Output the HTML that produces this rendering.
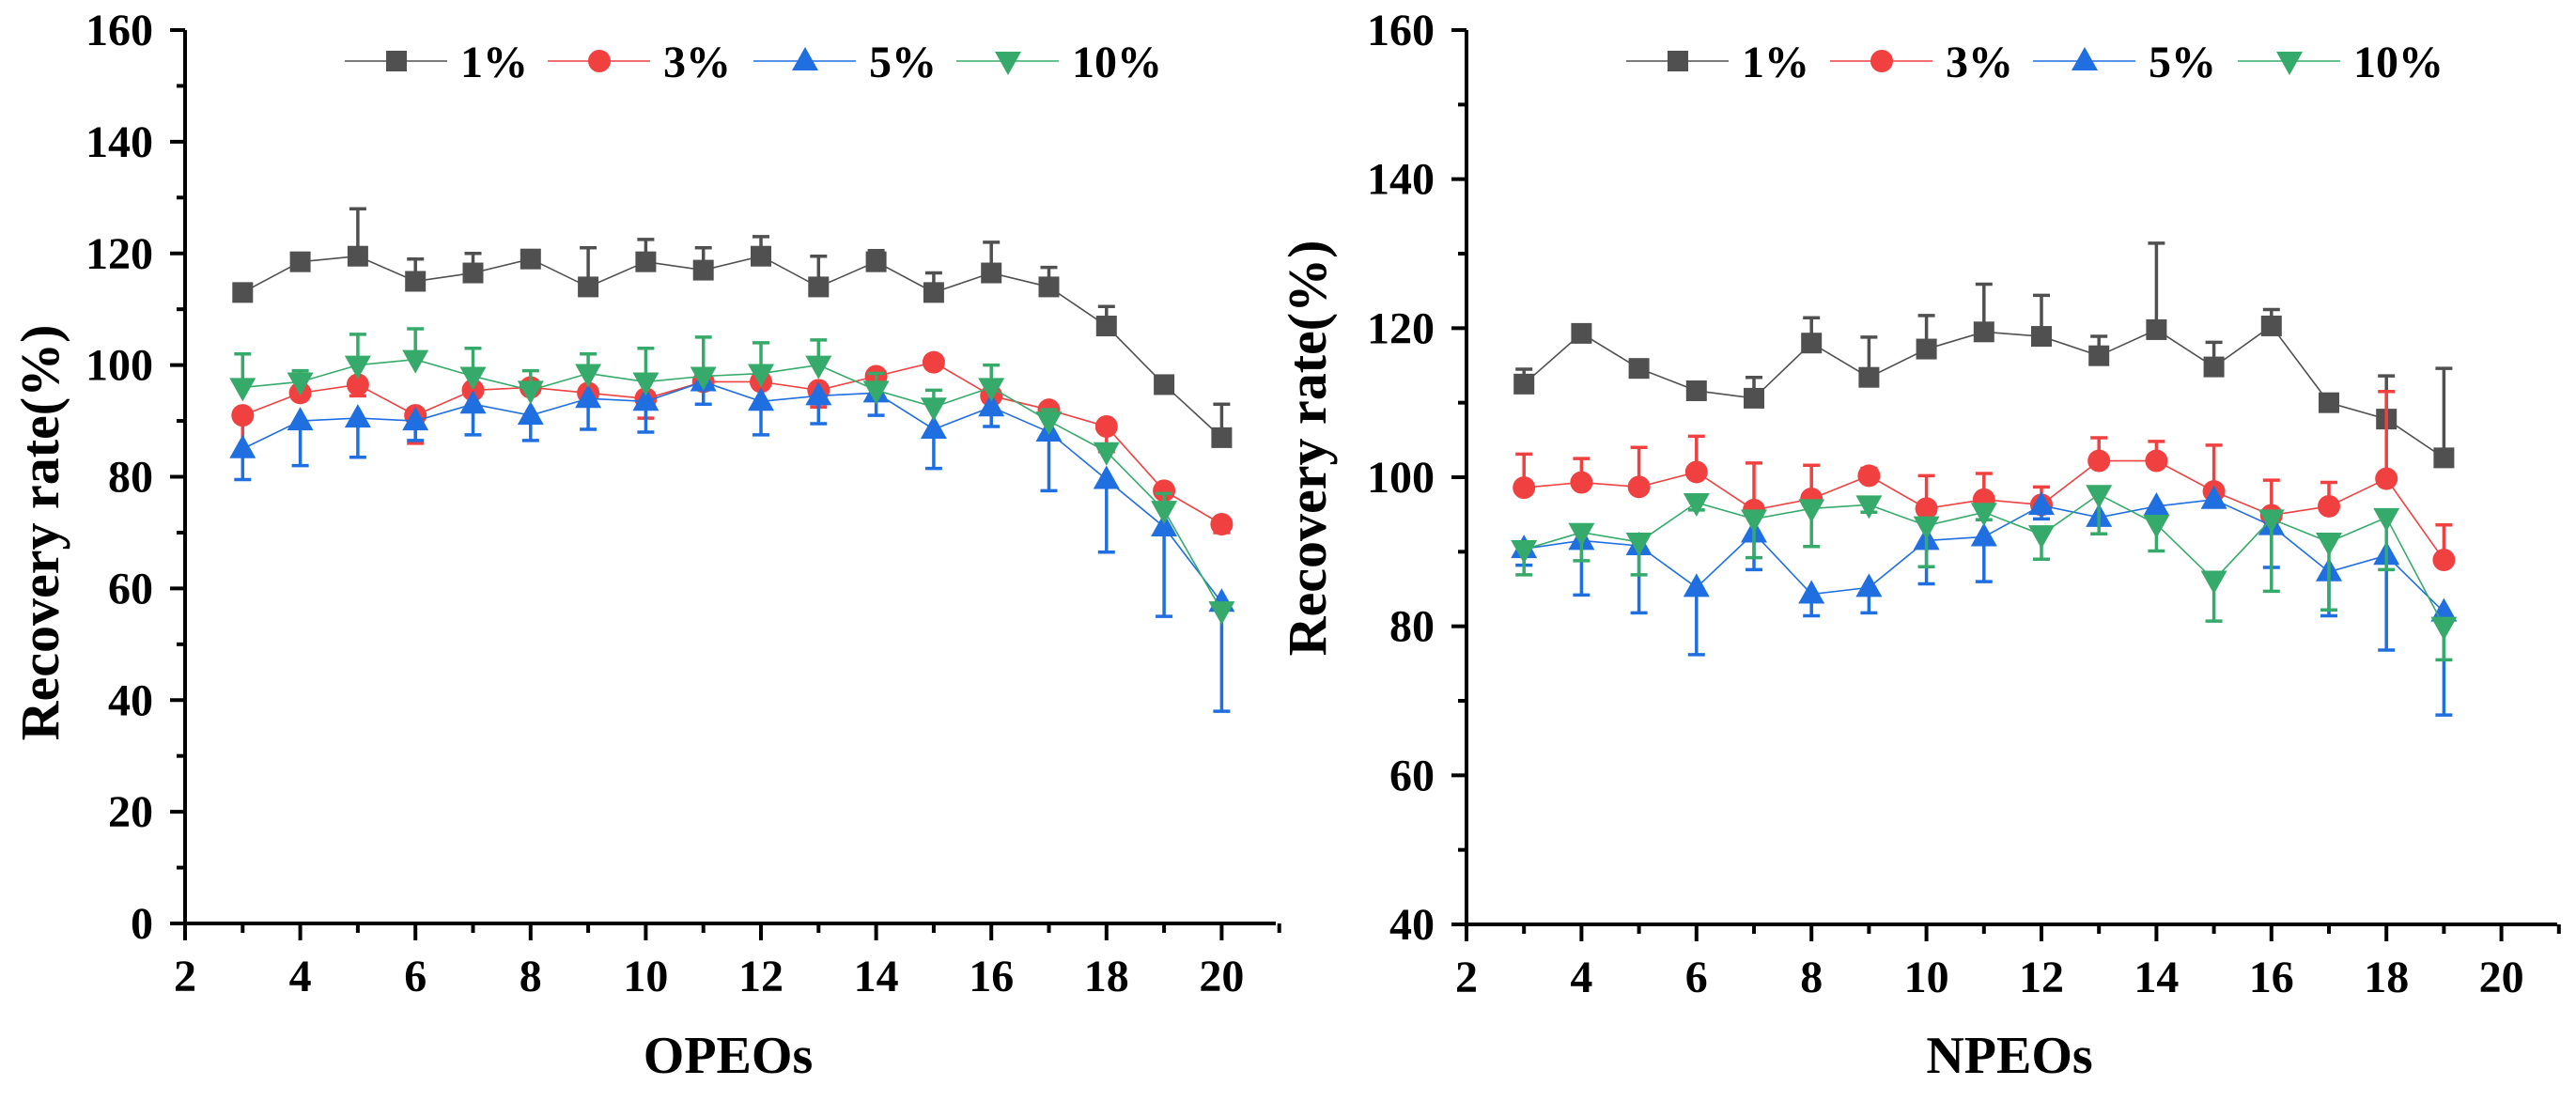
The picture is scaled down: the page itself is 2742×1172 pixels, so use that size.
<!DOCTYPE html>
<html><head><meta charset="utf-8"><style>
html,body{margin:0;padding:0;background:#fff;}
svg text{font-family:"Liberation Serif","Times New Roman",Times,serif;font-weight:bold;fill:#000;}
</style></head><body>
<svg id="chart" width="2742" height="1167" viewBox="0 0 2742 1167" xmlns="http://www.w3.org/2000/svg" font-family="Liberation Serif, Times New Roman, serif" font-weight="bold"></svg>
<script>
const xs = [3,4,5,6,7,8,9,10,11,12,13,14,15,16,17,18,19,20];
const xsR = [3,4,5,6,7,8,9,10,11,12,13,14,15,16,17,18,19];
const seriesNames = ['1%','3%','5%','10%'];
const yTicksL = [0,20,40,60,80,100,120,140,160];
const yTicksR = [40,60,80,100,120,140,160];
const xTicks = [2,4,6,8,10,12,14,16,18,20];
// OPEOs
const opeo1 = [113,118.5,119.5,115,116.5,119,114,118.5,117,119.5,114,118.5,113,116.5,114,107,96.5,87];
const opeo1Err = [0.5,1,8.5,4,3.5,0.5,7,4,4,3.5,5.5,2,3.5,5.5,3.5,3.5,0.5,6];
const opeo3 = [91,95,96.5,91,95.5,96,95,94,97,97,95.5,98,100.5,94.5,92,89,77.5,71.5];
const opeo3Err = [6.5,1,2,5,3.5,1,1,3.5,1,1,3,1,1,1,1,4.5,2.5,1.5];
const opeo5 = [85,90,90.5,90,93,91,94,93.5,97,93.5,94.5,95,88.5,92.5,88,79.5,71,57.5];
const opeo5Err = [5.5,8,7,3.5,5.5,4.5,5.5,5.5,4,6,5,4,7,3.5,10.5,13,16,19.5];
const opeo10 = [96,97,100,101,98,95.5,98.5,97,98,98.5,100,95.5,92.5,96,90,84.5,74,56];
const opeo10Err = [6,2,5.5,5.5,5,3.5,3.5,6,7,5.5,4.5,3,3,4,2,1,3,1];
// NPEOs
const npeo1 = [112.5,119.3,114.6,111.6,110.6,118,113.4,117.2,119.5,118.9,116.3,119.8,114.8,120.3,110,107.8,102.6];
const npeo1Err = [2,0.5,0.5,0.5,2.8,3.4,5.4,4.5,6.4,5.5,2.6,11.6,3.3,2.2,0.5,5.8,12];
const npeo3 = [98.6,99.3,98.7,100.7,95.6,97.1,100.2,95.8,97,96.3,102.2,102.2,98.1,94.9,96.1,99.8,88.9];
const npeo3Err = [4.5,3.2,5.3,4.8,6.3,4.5,1,4.4,3.5,2.4,3.1,2.6,6.2,4.7,3.2,11.7,4.7];
const npeo5 = [90.4,91.5,90.8,85.2,92.5,84.3,85.2,91.5,92,96.2,94.6,96.1,97,93.5,87.3,89.5,81.9];
const npeo5Err = [2.2,7.3,9,9,4.9,2.9,3.4,5.8,6,1.8,1,1.9,1,5.6,5.9,12.7,13.8];
const npeo10 = [90.3,92.6,91.3,96.6,94.4,95.8,96.3,93.5,95.3,92.3,97.7,93.7,86.2,94.4,91.3,94.6,80];
const npeo10Err = [3.4,3.8,4.4,1,5.2,5.1,1,5.5,1,3.3,5.3,3.6,5.5,9.7,9.1,7,4.5];

const NS='http://www.w3.org/2000/svg';
const svg=document.getElementById('chart');
const colors=['#505050','#f04040','#1f6fe0','#36aa6a'];
const shapes=['square','circle','tri','tridown'];
const FONT='Liberation Serif, Times New Roman, serif';
function mk(tag,attrs,parent){const e=document.createElementNS(NS,tag);for(const k in attrs)e.setAttribute(k,attrs[k]);(parent||svg).appendChild(e);return e;}
function txt(attrs,parent){attrs['font-family']=FONT;attrs['font-weight']='bold';return mk('text',attrs,parent);}
function marker(g,shape,x,y,c){
  let e;
  if(shape==='square') e=mk('rect',{x:x-11,y:y-11,width:22,height:22,fill:c},g);
  else if(shape==='circle') e=mk('circle',{cx:x,cy:y,r:12,fill:c},g);
  else if(shape==='tri') e=mk('polygon',{points:`${x},${y-15} ${x+14},${y+10} ${x-14},${y+10}`,fill:c},g);
  else e=mk('polygon',{points:`${x},${y+15} ${x+14},${y-10} ${x-14},${y-10}`,fill:c},g);
  return e;
}
function drawChart(cfg){
  const g=mk('g',{});
  
  
  const X=v=>cfg.x0+(v-2)*cfg.xu;
  const Y=v=>cfg.yb-(v-cfg.ymin)*(cfg.yb-cfg.yt)/(160-cfg.ymin);
  const xEnd=cfg.xEnd;
  const ax=mk('path',{d:`M${cfg.x0},${cfg.yt} V${cfg.yb} H${xEnd}`,stroke:'#000','stroke-width':4,fill:'none'},g);
  
  
  const yStep=cfg.yTicks[1]-cfg.yTicks[0];
  cfg.yTicks.forEach((t,i)=>{
    mk('line',{x1:cfg.x0-16,x2:cfg.x0,y1:Y(t),y2:Y(t),stroke:'#000','stroke-width':4},g);
    if(i<cfg.yTicks.length-1) mk('line',{x1:cfg.x0-9,x2:cfg.x0,y1:Y(t+yStep/2),y2:Y(t+yStep/2),stroke:'#000','stroke-width':4},g);
    const tx=txt({x:cfg.x0-34,y:Y(t)+16,'text-anchor':'end','font-size':48},g);
    tx.textContent=t;
    
    
  });
  xTicks.forEach((t,i)=>{
    mk('line',{x1:X(t),x2:X(t),y1:cfg.yb,y2:cfg.yb+18,stroke:'#000','stroke-width':4},g);
    mk('line',{x1:X(t+1),x2:X(t+1),y1:cfg.yb,y2:cfg.yb+10,stroke:'#000','stroke-width':4},g);
    const tx=txt({x:X(t),y:cfg.yb+72,'text-anchor':'middle','font-size':48},g);
    tx.textContent=t;
    
    
  });
  const xt=txt({x:cfg.xTitleX,y:1142,'text-anchor':'middle','font-size':56},g);
  xt.textContent=cfg.xTitle;
  
  
  const yt=txt({x:0,y:0,'text-anchor':'middle','font-size':58,transform:`translate(${cfg.yTitleX},${cfg.yTitleY}) rotate(-90)`},g);
  yt.textContent='Recovery rate(%)';
  
  
  cfg.series.forEach((s,si)=>{
    const sg=mk('g',{},g);
    
    
    const c=colors[si];
    const pts=s.vals.map((v,i)=>`${X(cfg.xs[i])},${Y(v)}`).join(' ');
    mk('polyline',{points:pts,fill:'none',stroke:c,'stroke-width':1.6},sg);
    s.vals.forEach((v,i)=>{
      const e=s.err[i]*s.dir;
      const x=X(cfg.xs[i]);
      mk('line',{x1:x,x2:x,y1:Y(v),y2:Y(v+e),stroke:c,'stroke-width':3.5},sg);
      mk('line',{x1:x-9,x2:x+9,y1:Y(v+e),y2:Y(v+e),stroke:c,'stroke-width':3.5},sg);
    });
    s.vals.forEach((v,i)=>{
      const m=marker(sg,shapes[si],X(cfg.xs[i]),Y(v),c);
      
      
    });
  });
  const lg=mk('g',{},g);
  
  
  cfg.legendX.forEach((lx,si)=>{
    const eg=mk('g',{},lg);
    
    
    mk('line',{x1:lx-55,x2:lx+54,y1:65,y2:65,stroke:colors[si],'stroke-width':1.6},eg);
    marker(eg,shapes[si],lx,65,colors[si]);
    const t=txt({x:lx+68,y:82,'font-size':48},eg);
    t.textContent=seriesNames[si];
  });
}
drawChart({name:'opeos-chart',x0:197,xu:61.3,xEnd:1358,yt:32,yb:983,ymin:0,yTicks:yTicksL,xs:xs,
  xTitle:'OPEOs',xTitleX:775,yTitleX:62,yTitleY:567,legendX:[422,638,857,1073],
  series:[{vals:opeo1,err:opeo1Err,dir:1},{vals:opeo3,err:opeo3Err,dir:-1},{vals:opeo5,err:opeo5Err,dir:-1},{vals:opeo10,err:opeo10Err,dir:1}]});
drawChart({name:'npeos-chart',x0:1561,xu:61.2,xEnd:2722,yt:32,yb:984,ymin:40,yTicks:yTicksR,xs:xsR,
  xTitle:'NPEOs',xTitleX:2139,yTitleX:1411,yTitleY:477,legendX:[1786,2003,2219,2437],
  series:[{vals:npeo1,err:npeo1Err,dir:1},{vals:npeo3,err:npeo3Err,dir:1},{vals:npeo5,err:npeo5Err,dir:-1},{vals:npeo10,err:npeo10Err,dir:-1}]});
</script>
</body></html>
